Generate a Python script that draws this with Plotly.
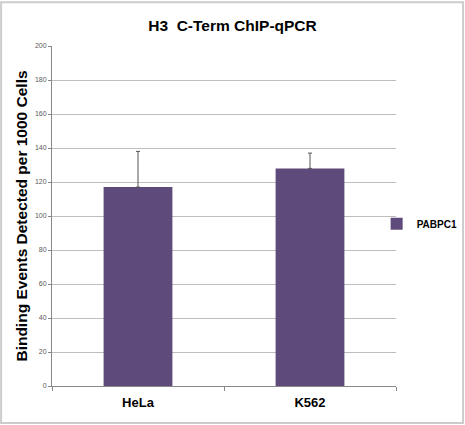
import plotly.graph_objects as go

categories = ["HeLa", "K562"]
values = [117, 128]
err_plus = [21, 9]
err_minus = [0, 0]
series_name = "PABPC1"
y_ticks = [0, 20, 40, 60, 80, 100, 120, 140, 160, 180, 200]

BAR = "#5f4b7b"
GRID = "#bdbdbd"

fig = go.Figure()
fig.add_trace(go.Bar(
    x=categories, y=values, name="<b>" + series_name + "</b>",
    marker=dict(color=BAR, line=dict(width=0)),
    width=0.4,
    error_y=dict(type="data", symmetric=False, array=err_plus,
                 arrayminus=err_minus, color="#555555", thickness=1, width=2),
))

fig.update_layout(
    width=465, height=425,
    paper_bgcolor="white", plot_bgcolor="white",
    margin=dict(l=52, r=69, t=46, b=39, autoexpand=False),
    font=dict(family="Liberation Sans, Arial, sans-serif", color="#000000"),
    title=dict(text="<b>H3  C-Term ChIP-qPCR</b>", x=0.5, xanchor="center",
               y=0.941, yanchor="middle", font=dict(size=15.5)),
    showlegend=True,
    legend=dict(xref="container", x=0.81, y=0.477, xanchor="left",
                yanchor="middle", font=dict(size=10), itemwidth=30,
                bgcolor="rgba(0,0,0,0)"),
    xaxis=dict(showline=True, linecolor="#888888", linewidth=1,
               ticks="outside", tickson="boundaries", ticklen=4,
               tickcolor="#888888", automargin=False,
               tickprefix="<b>", ticksuffix="</b>", ticklabelstandoff=4,
               tickfont=dict(size=13)),
    yaxis=dict(range=[0, 200], tickvals=y_ticks, showline=True,
               linecolor="#888888", linewidth=1, ticks="outside", ticklen=3,
               tickcolor="#888888", gridcolor=GRID, gridwidth=1,
               automargin=False,
               tickfont=dict(size=7, color="#595959"),
               title=dict(text="<b>Binding Events Detected per 1000 Cells</b>",
                          font=dict(size=15.5), standoff=3)),
    shapes=[dict(type="rect", xref="paper", yref="paper", x0=-0.148, y0=-0.109,
                 x1=1.195, y1=1.129, line=dict(color="#cccccc", width=2))],
)

# the page's default body margin would shift the chart by 8px
fig.write_html("out.html", config={"displayModeBar": False},
               post_script="document.body.style.margin='0';")
